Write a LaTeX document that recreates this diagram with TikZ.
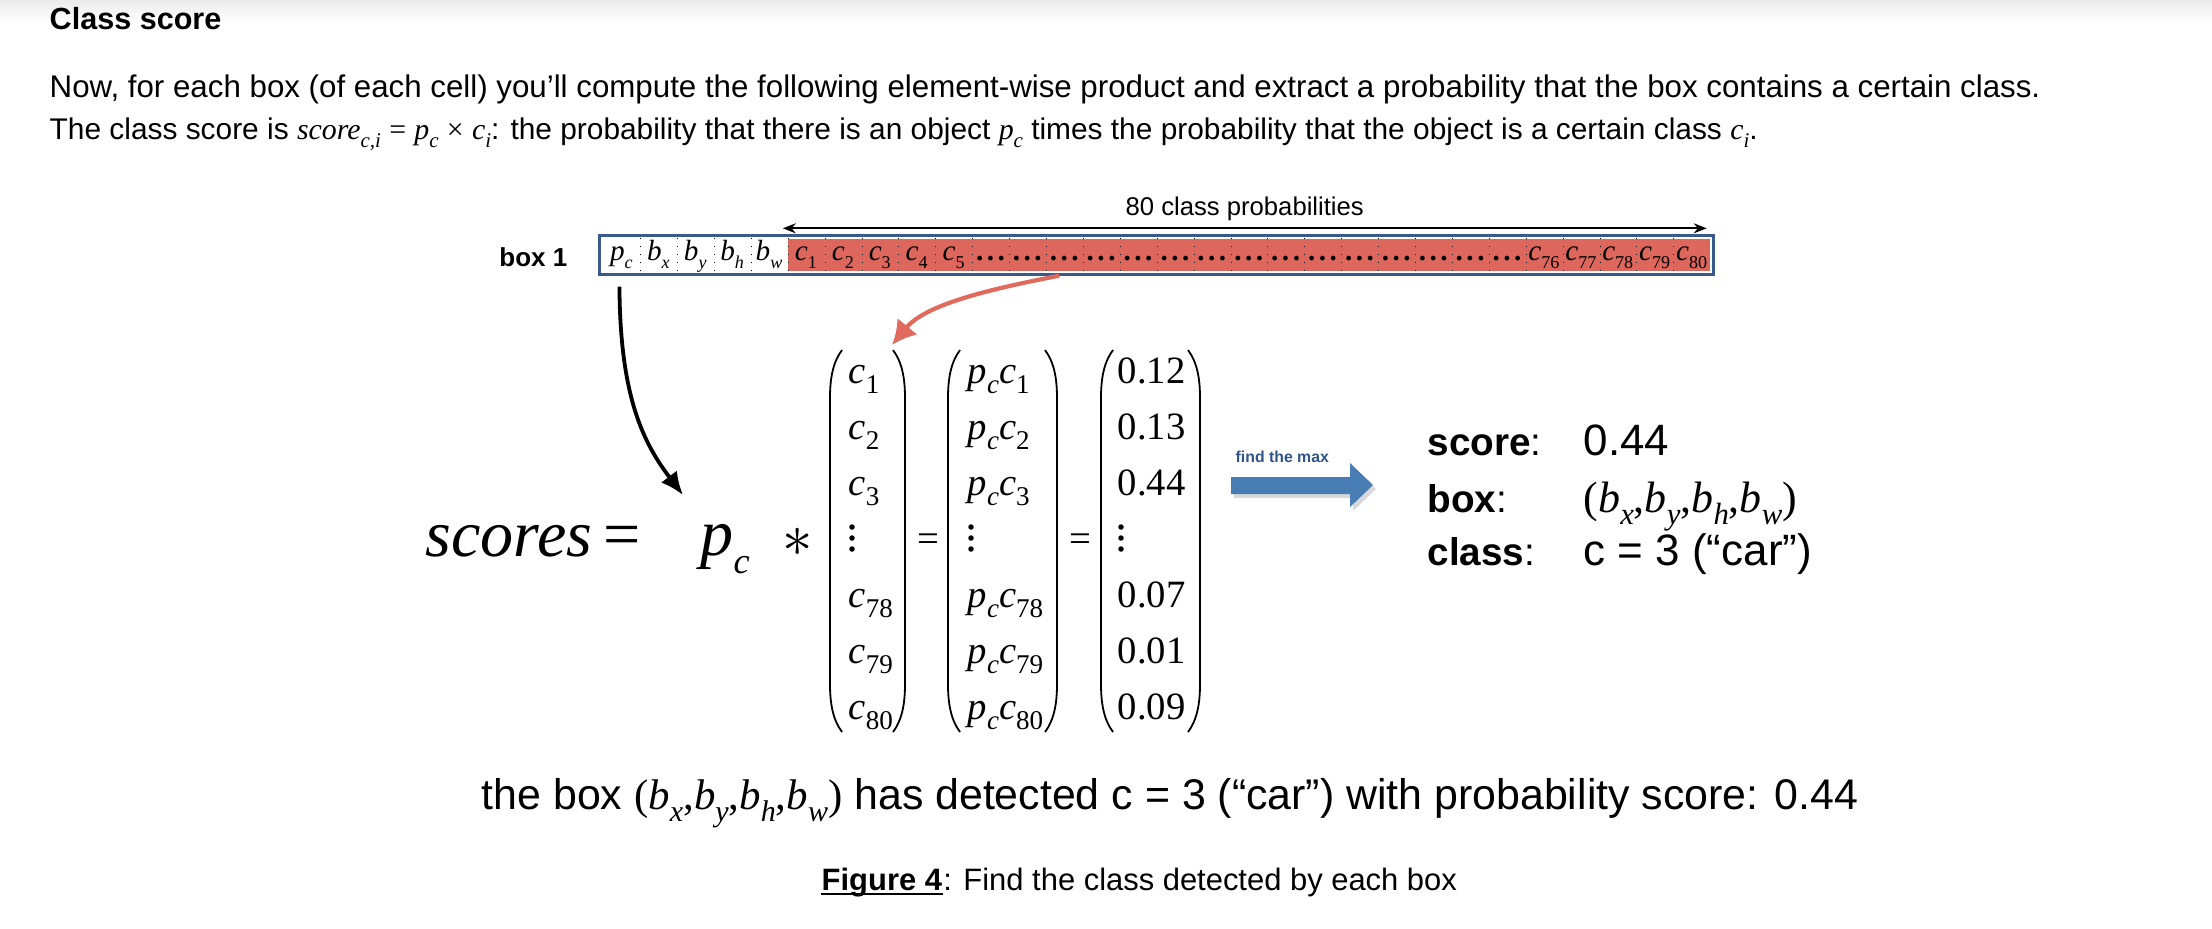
\documentclass[tikz,border=0pt]{standalone}
\usepackage{fontspec}
\setmainfont{Liberation Sans}
\newfontfamily\tms{Liberation Serif}
\usetikzlibrary{positioning, arrows.meta, calc, shadows}

\definecolor{cellred}{RGB}{221,102,93}
\definecolor{stripblue}{RGB}{58,90,142}
\definecolor{curvered}{RGB}{225,106,95}
\definecolor{maxblue}{RGB}{72,125,180}
\definecolor{maxtext}{RGB}{48,84,138}

\makeatletter
\newcommand{\fsz}[1]{\fontsize{#1}{#1}\selectfont}
% lowered index, a fraction of the current size
\newcommand{\lo}[2][0.7]{\raisebox{-0.28em}{\fontsize{\fpeval{#1*\f@size}}{0}\selectfont #2}}
\makeatother
\newcommand{\mv}[1]{{\tms\itshape #1}}
\newcommand{\cent}[1]{{\itshape c\lo{\upshape #1}}}
\newcommand{\pcent}[1]{{\itshape p\lo{c}c\lo{\upshape #1}}}
\newcommand{\bcoords}{{\tms(\textit{b}\lo{\textit{x}},%
    \textit{b}\lo{\textit{y}},%
    \textit{b}\lo{\textit{h}},%
    \textit{b}\lo{\textit{w}})}}

\begin{document}
\begin{tikzpicture}[
        x=0.1mm, y=-0.1mm,
        txt/.style={
            anchor=base west,
            inner sep=0,
            font=\fsz{8.9}
        },
        cell/.style={
            rectangle,
            inner sep=0,
            minimum width=3.69mm,
            minimum height=3.2mm,
            text height=1.6mm,
            text depth=0.6mm,
            font=\fsz{8.3}\tms\itshape
        },
        redcell/.style={
            cell,
            fill=cellred
        },
        divider/.style={
            dotted,
            line width=0.1mm
        },
        entry/.style={
            anchor=base west,
            inner sep=0,
            font=\fsz{11}\tms
        },
        vdot/.style={
            circle,
            fill,
            inner sep=0,
            minimum size=0.55mm
        },
        paren/.style={
            line width=0.18mm
        },
        key/.style={
            anchor=base west,
            inner sep=0,
            font=\fsz{11}
        },
        value/.style={
            key,
            font=\fsz{12.5}
        },
        span/.style={
            {Stealth[length=1.3mm, width=1mm]}-{Stealth[length=1.3mm, width=1mm]},
            line width=0.2mm
        },
        arrow/.style={
            -{Latex[length=2.3mm, width=2mm]},
            line width=0.38mm
        },
        redarrow/.style={
            -{Latex[length=2.4mm, width=2.6mm]},
            line width=0.42mm,
            curvered
        }
    ]

    \useasboundingbox (0,0) rectangle (2212,928);
    \fill[white] (0,0) rectangle (2212,928);
    \shade[top color=black!8, bottom color=white] (0,0) rectangle (2212,22);

    % --------------------------------------------------------
    % Heading and explanation
    % --------------------------------------------------------

    \node[txt, font=\fsz{8.7}\bfseries] (title) at (49,29)
        {Class score};

    \node[txt] (intro) at (49,97)
        {Now, for each box (of each cell) you'll compute the following element-wise product and extract a probability that the box contains a certain class.};

    \node[txt, font=\fsz{8.5}] (definition) at (49,139)
        {The class score is \mv{score\lo{c,i}} {\tms =} \mv{p\lo{c}} {\tms ×} \mv{c\lo{i}}: the probability that there is an object \mv{p\lo{c}} times the probability that the object is a certain class \mv{c\lo{i}}.};

    % --------------------------------------------------------
    % Output vector of box 1
    % --------------------------------------------------------

    \foreach \lab [count=\i] in {p\lo[0.62]{c}, b\lo[0.62]{x}, b\lo[0.62]{y}, b\lo[0.62]{h}, b\lo[0.62]{w}}
        \node[cell] (cell\i) at ({603+(\i-0.5)*36.9},255) {\lab};

    \foreach \k [count=\i from 6] in {1,...,5}
        \node[redcell] (cell\i) at ({603+(\i-0.5)*36.9},255) {c\lo[0.62]{\upshape\k}};

    \foreach \i in {11,...,25}
        \node[redcell] (cell\i) at ({603+(\i-0.5)*36.9},255) {\upshape\bfseries .\kern0.12em.\kern0.12em.};

    \foreach \k [count=\i from 26] in {76,...,80}
        \node[redcell] (cell\i) at ({603+(\i-0.5)*36.9},255) {c\lo[0.62]{\upshape\k}};

    \foreach \i in {1,...,29}
        \draw[divider] (cell\i.north east) -- (cell\i.south east);

    \draw[stripblue, line width=0.3mm]
        ($(cell1.north west)+(-3,-3)$)
        rectangle
        ($(cell30.south east)+(3,3)$);

    \node[txt, font=\fsz{7.4}\bfseries, anchor=base east] (boxlabel) at (568,266)
        {box 1};

    % 80 class probabilities
    \draw[span]
        ($(cell6.north west)+(-4,-10)$)
        -- node[above=0.6mm, inner sep=0, font=\fsz{7.3}] (spanlabel) {80 class probabilities}
        ($(cell30.north east)+(-4,-10)$);

    % --------------------------------------------------------
    % Element-wise product
    % --------------------------------------------------------

    \node[anchor=base west, inner sep=0, font=\fsz{18.8}\tms] (scores) at (425,556)
        {\textit{scores}\,=};

    \node[anchor=base west, inner sep=0, font=\fsz{18.8}\tms\itshape] (pc) at (700,555)
        {p\lo[0.55]{c}};

    \node[anchor=base west, inner sep=0, font=\fsz{18}] (star) at (782,556)
        {$\ast$};

    \foreach \lab [count=\r] in {\cent{1}, \cent{2}, \cent{3}, {}, \cent{78}, \cent{79}, \cent{80}}
        \node[entry] (classcol\r) at (848,{327+56*\r}) {\lab};

    \foreach \lab [count=\r] in {\pcent{1}, \pcent{2}, \pcent{3}, {}, \pcent{78}, \pcent{79}, \pcent{80}}
        \node[entry] (prodcol\r) at (967,{327+56*\r}) {\lab};

    \foreach \lab [count=\r] in {0.12, 0.13, 0.44, {}, 0.07, 0.01, 0.09}
        \node[entry] (scorecol\r) at (1117,{327+56*\r}) {\lab};

    % vertical dots in the middle row
    \foreach \dx in {852, 971, 1121}
        \foreach \dy in {527, 538, 549}
            \node[vdot] at (\dx,\dy) {};

    \node[entry] (eqa) at (917,551) {=};
    \node[entry] (eqb) at (1069,551) {=};

    % brackets of the three columns
    \foreach \lx/\rx in {830/905, 948/1057, 1101/1200} {
        \draw[paren]
            ({\lx+12},350) .. controls ({\lx+3},362) and (\lx,378) .. (\lx,398)
            -- (\lx,684) .. controls (\lx,704) and ({\lx+3},720) .. ({\lx+12},732);
        \draw[paren]
            ({\rx-12},350) .. controls ({\rx-3},362) and (\rx,378) .. (\rx,398)
            -- (\rx,684) .. controls (\rx,704) and ({\rx-3},720) .. ({\rx-12},732);
    }

    % --------------------------------------------------------
    % Find the max
    % --------------------------------------------------------

    \node[anchor=base west, inner sep=0, font=\fsz{4.5}\bfseries, text=maxtext] (findmax) at (1235,462)
        {find the max};

    \fill[maxblue, drop shadow={shadow xshift=0.3mm, shadow yshift=-0.4mm, opacity=0.3}]
        (1231,477) -- (1350,477) -- (1350,463) -- (1373,485)
        -- (1350,507) -- (1350,494) -- (1231,494) -- cycle;

    \node[key] (scorekey) at (1427,455) {\textbf{score}:};
    \node[value] (scoreval) at (1583,455) {0.44};

    \node[key] (boxkey) at (1427,512) {\textbf{box}:};
    \node[value] (boxval) at (1583,512) {\bcoords};

    \node[key] (classkey) at (1427,565) {\textbf{class}:};
    \node[value] (classval) at (1583,565) {c = 3 (“car”)};

    % --------------------------------------------------------
    % Summary and caption
    % --------------------------------------------------------

    \node[txt, font=\fsz{12.2}] (summary) at (481,809)
        {the box \bcoords{} has detected c = 3 (“car”) with probability score: 0.44};

    \node[txt, font=\fsz{8.8}\bfseries] (figlabel) at (821,890)
        {Figure 4};
    \node[txt, font=\fsz{8.8}] (figtext) at (figlabel.base east)
        {: Find the class detected by each box};
    \draw[line width=0.25mm]
        ($(figlabel.base west)+(0,4)$) -- ($(figlabel.base east)+(0,4)$);

    % --------------------------------------------------------
    % Arrows
    % --------------------------------------------------------

    \coordinate (pctop) at (683,495);
    \coordinate (coltop) at (892,345);

    % p_c -> scores
    \draw[arrow]
        ($(cell1.south)+(-2,15)$)
        .. controls (620,400) and (645,445) ..
        (pctop);

    % class probabilities -> first column
    \draw[redarrow]
        ($(cell13.south)+(-5,4)$)
        .. controls (985,290) and (925,305) ..
        (coltop);

\end{tikzpicture}
\end{document}
